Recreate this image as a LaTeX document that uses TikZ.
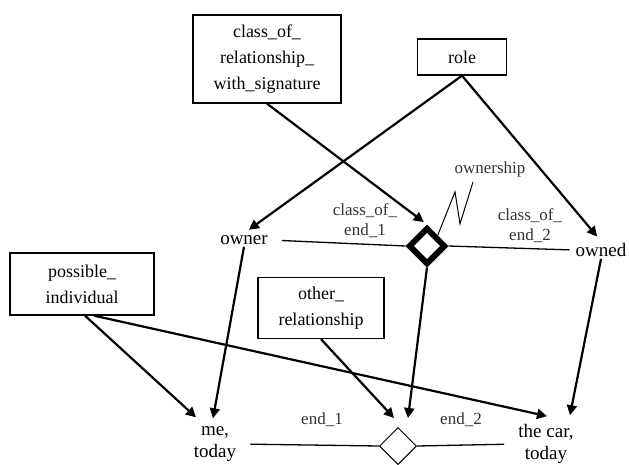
\documentclass[tikz,border=0pt]{standalone}
\usepackage{fontspec}
\setmainfont{Liberation Serif}
\usepackage{tikz}
\usetikzlibrary{arrows.meta,positioning,shapes.geometric}
\tikzset{
  box/.style={
    draw,
    line width=1.3pt,
    align=center,
    inner sep=0pt,
    font=\fontsize{18}{26}\selectfont
  },
  lbl/.style={
    align=center,
    inner sep=2pt,
    font=\fontsize{19}{22}\selectfont
  },
  tag/.style={
    align=center,
    inner sep=1pt,
    text=black!80,
    font=\fontsize{17}{20}\selectfont
  },
  reldia/.style={diamond, draw, aspect=1, inner sep=0pt},
  arrow/.style={-{Triangle[length=10pt,width=10pt]}, line width=2.2pt},
  link/.style={line width=1.3pt}
}

\begin{document}
\begin{tikzpicture}[x=1pt,y=-1pt]
  \useasboundingbox (0,0) rectangle (629,464);
  \node[box, minimum width=148pt, minimum height=88pt] (corws) at (267,59) {class\_of\_\\relationship\_\\with\_signature};
  \node[box, minimum width=89pt, minimum height=36pt] (role) at (462,57) {role};
  \node[box, minimum width=144pt, minimum height=62pt] (posind) at (82,284) {possible\_\\individual};
  \node[box, minimum width=126pt, minimum height=61pt] (otherrel) at (321,308) {other\_\\relationship};

  \node[lbl] (owner) at (244,240) {owner};
  \node[lbl] (owned) at (601,250) {owned};
  \node[lbl] (me) at (215,444) {me,\\today};
  \node[lbl] (car) at (546,444) {the car,\\today};

  \node[reldia, line width=6pt, minimum size=37pt] (own) at (427,246) {};
  \node[reldia, line width=1pt, minimum size=37pt] (rel) at (398,446) {};

  \node[tag] (ownership) at (490,169) {ownership};
  \node[tag] (coe1) at (365,221) {class\_of\_\\end\_1};
  \node[tag] (coe2) at (530,226) {class\_of\_\\end\_2};
  \node[tag] (end1) at (322,420) {end\_1};
  \node[tag] (end2) at (461,420) {end\_2};

  \draw[link, shorten <=12pt] (owner.east) -- (own.west);
  \draw[link, shorten >=4pt] (own.east) -- (owned.west);
  \draw[link, shorten <=12pt] (me.east) -- (rel.west);
  \draw[link, shorten >=12pt] (rel.east) -- (car.west);
  \draw[line width=1pt] ([xshift=-17pt,yshift=-4pt]ownership.south) -- ++(-13,42) -- ++(-5,-32) -- (own.north east);

  \draw[arrow, shorten >=4pt] (corws.south) -- (own.north);
  \draw[arrow, shorten >=6pt] (role.south) -- (owner.north);
  \draw[arrow, shorten >=6pt] (role.south) -- (owned.north);
  \draw[arrow] (owner.south) -- ([xshift=-2pt,yshift=6pt]me.north);
  \draw[arrow] (own.south) -- ([xshift=10pt,yshift=9pt]rel.north);
  \draw[arrow] (otherrel.south) -- ([xshift=-4pt,yshift=9pt]rel.north);
  \draw[arrow] (owned.south) -- ([xshift=24pt,yshift=7pt]car.north);
  \draw[arrow] ([xshift=3pt]posind.south) -- ([xshift=-19pt,yshift=7pt]me.north);
  \draw[arrow] ([xshift=12pt]posind.south) -- ([xshift=1pt,yshift=6pt]car.north);
\end{tikzpicture}
\end{document}
